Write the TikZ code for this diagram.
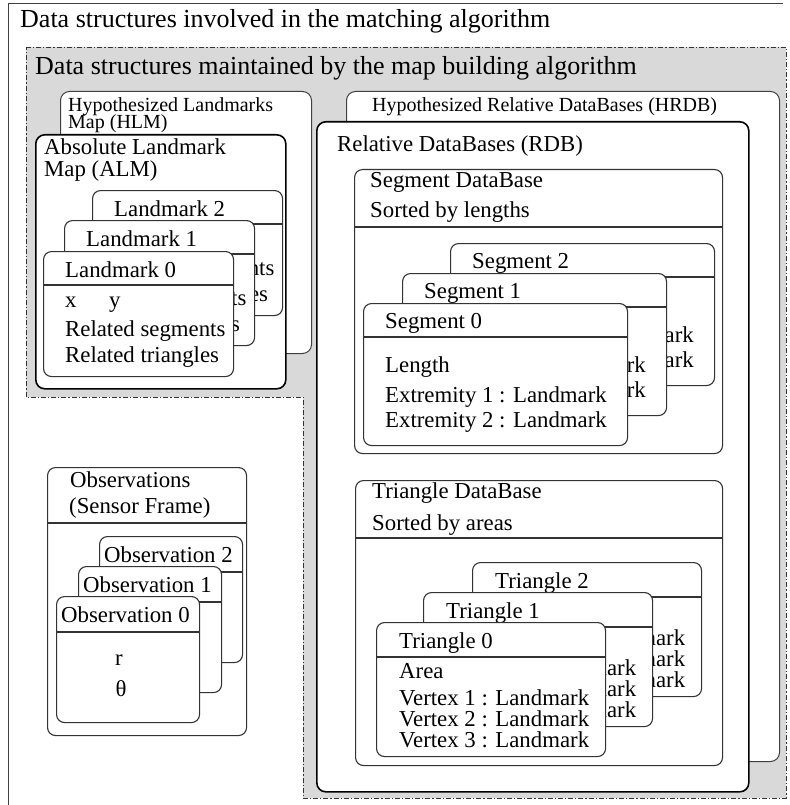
\documentclass[tikz,border=0pt]{standalone}
\usepackage{fontspec}
\setmainfont{Liberation Serif}
\begin{document}
\begin{tikzpicture}[x=1pt,y=-1pt,
  boxst/.style={draw=black!80,line width=1.1pt,rounded corners=8pt,fill=white,inner sep=0pt},
  bigst/.style={boxst,draw=black,line width=1.6pt,rounded corners=9pt},
  hypst/.style={boxst,draw=black!75,line width=1pt,rounded corners=9pt},
  divst/.style={draw=black!80,line width=1.1pt},
  tx/.style={anchor=base west,inner sep=0pt,font=\fontsize{22.8}{24}\selectfont},
  txc/.style={anchor=base,inner sep=0pt,font=\fontsize{22.8}{24}\selectfont},
  txs/.style={anchor=base west,inner sep=0pt,font=\fontsize{20}{22}\selectfont},
  txl/.style={anchor=base west,inner sep=0pt,font=\fontsize{26}{28}\selectfont},
  dashdot/.style={draw=black!80,line width=0.9pt,dash pattern=on 5pt off 2pt on 1.2pt off 2pt}]
\newcommand\rbox[6][]{\node[boxst,anchor=north west,minimum width={#5-#3},minimum height={#6-#4},#1] (#2) at (#3,#4) {};}
% #5 = 1 for the front card (all fields shown), 0 for cards behind
\newcommand\landcard[5]{%
 \begin{scope}[shift={(#2,#3)}]
  \node[boxst,anchor=north west,minimum width=190,minimum height=125] (#1) at (0,0) {};
  \draw[divst] (#1.west |- 0,34) -- (#1.east |- 0,34);
  \node[tx] (#1t) at (22,26) {Landmark #4};
  \ifnum#5=1
  \node[tx] (#1x) at (22,56) {x};
  \node[tx] (#1y) at (66,56) {y};
  \fi
  \node[tx] (#1s) at (22,85) {Related segments};
  \node[tx] (#1r) at (22,111) {Related triangles};
 \end{scope}}
\newcommand\segcard[5]{%
 \begin{scope}[shift={(#2,#3)}]
  \node[boxst,anchor=north west,minimum width=264,minimum height=142] (#1) at (0,0) {};
  \draw[divst] (#1.west |- 0,34) -- (#1.east |- 0,34);
  \node[tx] (#1t) at (22,25) {Segment #4};
  \ifnum#5=1
  \node[tx] (#1l) at (22,69) {Length};
  \fi
  \node[tx] (#1a) at (22,99) {Extremity 1 : Landmark};
  \node[tx] (#1b) at (22,124) {Extremity 2 : Landmark};
 \end{scope}}
\newcommand\tricard[5]{%
 \begin{scope}[shift={(#2,#3)}]
  \node[boxst,anchor=north west,minimum width=229,minimum height=134] (#1) at (0,0) {};
  \draw[divst] (#1.west |- 0,35) -- (#1.east |- 0,35);
  \node[tx] (#1t) at (23,26) {Triangle #4};
  \ifnum#5=1
  \node[tx] (#1a) at (23,56) {Area};
  \fi
  \node[tx] (#1b) at (23,83) {Vertex 1 : Landmark};
  \node[tx] (#1c) at (23,104) {Vertex 2 : Landmark};
  \node[tx] (#1d) at (23,125) {Vertex 3 : Landmark};
 \end{scope}}
\newcommand\obscard[4]{%
 \begin{scope}[shift={(#2,#3)}]
  \node[boxst,anchor=north west,minimum width=143,minimum height=126] (#1) at (0,0) {};
  \draw[divst] (#1.west |- 0,36) -- (#1.east |- 0,36);
  \node[tx] (#1t) at (5,26) {Observation #4};
 \end{scope}}
\useasboundingbox (0,0) rectangle (789,805);
% outer frame
\coordinate (fbl) at (8,805);
\coordinate (ftl) at (8,4);
\coordinate (ftr) at (783,4);
\draw[draw=black!75,line width=1pt] (fbl) -- (ftl) -- (ftr);
\node[txl] (title) at (20,28) {Data structures involved in the matching algorithm};
% maintained region
\draw[dashdot,fill=gray!30] (26,47) -- (786,47) -- (786,798) -- (303,798) -- (303,397) -- (26,397) -- cycle;
\node[txl] (maint) at (35,75) {Data structures maintained by the map building algorithm};
% HLM
\rbox[hypst]{hlm}{60}{91}{311}{353}
\node[txs] (hlm1) at (68,112) {Hypothesized Landmarks};
\node[txs] (hlm2) at (68,129) {Map (HLM)};
% ALM
\rbox[bigst]{alm}{35}{134}{285}{388}
\node[tx] (alm1) at (44,155) {Absolute Landmark};
\node[tx] (alm2) at (44,177) {Map (ALM)};
\landcard{lmb}{92}{190}{2}{0}
\landcard{lma}{64}{220}{1}{0}
\landcard{lmz}{43}{251}{0}{1}
% HRDB
\rbox[hypst]{hrdb}{346}{91}{779}{761}
\node[txs] (hrdbt) at (372,112) {Hypothesized Relative DataBases (HRDB)};
% RDB
\rbox[bigst]{rdb}{316}{121}{748}{791}
\node[tx] (rdbt) at (337,152) {Relative DataBases (RDB)};
% Segment DB
\rbox{segdb}{354}{169}{722}{453}
\draw[divst] (segdb.west |- 0,227) -- (segdb.east |- 0,227);
\node[tx] (segdb1) at (370,188) {Segment DataBase};
\node[tx] (segdb2) at (370,217) {Sorted by lengths};
\segcard{sgb}{450}{243}{2}{0}
\segcard{sga}{402}{273}{1}{0}
\segcard{sgz}{363}{303}{0}{1}
% Triangle DB
\rbox{tridb}{355}{480}{722}{765}
\draw[divst] (tridb.west |- 0,538) -- (tridb.east |- 0,538);
\node[tx] (tridb1) at (372,498) {Triangle DataBase};
\node[tx] (tridb2) at (372,530) {Sorted by areas};
\tricard{trb}{472}{562}{2}{0}
\tricard{tra}{423}{592}{1}{0}
\tricard{trz}{376}{622}{0}{1}
% Observations
\rbox{obsdb}{47}{467}{246}{735}
\draw[divst] (obsdb.west |- 0,523) -- (obsdb.east |- 0,523);
\node[tx] (obs1) at (70,487) {Observations};
\node[tx] (obs2) at (69,513) {(Sensor Frame)};
\obscard{obb}{99}{536}{2}
\obscard{oba}{78}{566}{1}
\obscard{obz}{56}{596}{0}
\node[txc] (obr) at (119,665) {r};
\node[txc] (obth) at (121,696) {θ};
\end{tikzpicture}
\end{document}
